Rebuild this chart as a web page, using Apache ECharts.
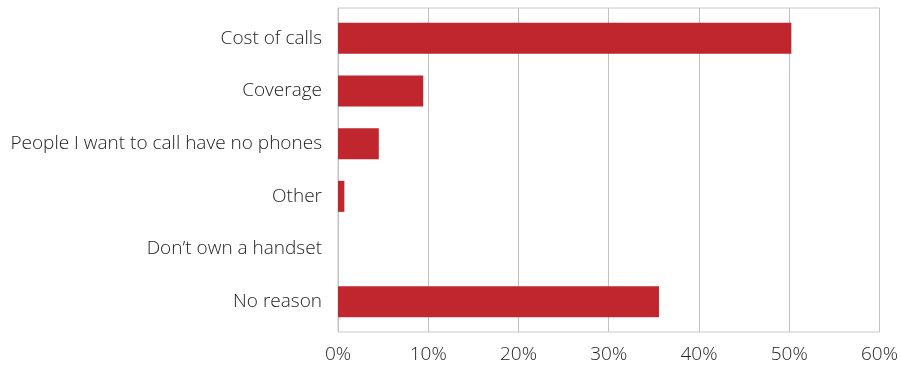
<!DOCTYPE html>
<html>
<head>
<meta charset="utf-8">
<script src="https://cdn.jsdelivr.net/npm/echarts@6/dist/echarts.min.js"></script>
<style>
  html, body { margin: 0; padding: 0; background: #ffffff; }
  #chart { width: 901px; height: 366px; }
</style>
</head>
<body>
<div id="chart"></div>
<script>
// Reasons given, top to bottom as displayed
const categories = [
  'Cost of calls',
  'Coverage',
  'People I want to call have no phones',
  'Other',
  'Don\u2019t own a handset',
  'No reason'
];
// Share of respondents, percent
const shares = [50, 9.4, 4.5, 0.7, 0, 35.4];
const tickStep = 10;
const tickMax = 60;

const font = '"Open Sans", "Noto Sans", sans-serif';
const textColor = '#222222';

const chart = echarts.init(document.getElementById('chart'));
chart.setOption({
  animation: false,
  textStyle: { fontFamily: font },
  grid: [
    // frame, vertical gridlines and percent ticks
    { left: 338, right: 19, top: 8, bottom: 34,
      show: true, borderColor: '#c8c8c8', borderWidth: 1, backgroundColor: 'transparent' },
    // category bands sit slightly inside the frame
    { left: 338, right: 19, top: 12, bottom: 38 }
  ],
  xAxis: [
    {
      gridIndex: 0, type: 'value',
      min: 0, max: tickMax, interval: tickStep,
      axisLine: { show: false },
      axisTick: { show: false },
      splitLine: { show: true, lineStyle: { color: '#c0c0c0', width: 1 } },
      axisLabel: {
        formatter: v => v + '%',
        color: textColor, fontSize: 19, fontWeight: 300, margin: 13
      }
    },
    {
      gridIndex: 1, type: 'value',
      min: 0, max: tickMax, interval: tickStep,
      show: false
    }
  ],
  yAxis: [
    {
      gridIndex: 0, type: 'category', data: categories, inverse: true,
      show: false
    },
    {
      gridIndex: 1, type: 'category', data: categories, inverse: true,
      axisLine: { show: false },
      axisTick: { show: false },
      splitLine: { show: false },
      axisLabel: { color: textColor, fontSize: 19, fontWeight: 300, margin: 16 }
    }
  ],
  series: [{
    type: 'bar',
    xAxisIndex: 1, yAxisIndex: 1,
    data: shares,
    barWidth: '59%',
    itemStyle: { color: '#c0262d' }
  }]
});
</script>
</body>
</html>
